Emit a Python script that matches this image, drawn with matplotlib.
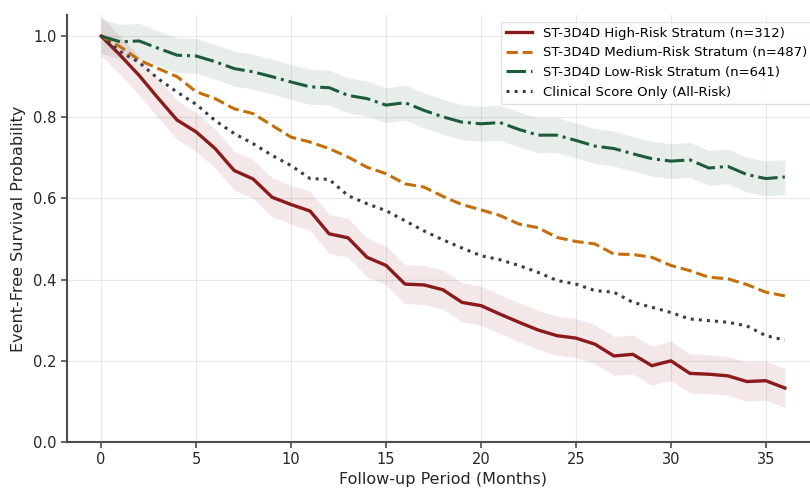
import matplotlib
matplotlib.use("Agg")
import matplotlib.pyplot as plt
import numpy as np

plt.rcParams['font.family'] = ['DejaVu Sans']

months = list(range(0, 37))

high_risk = [1.000, 0.953, 0.903, 0.847, 0.793, 0.764, 0.723, 0.669, 0.648, 0.603,
             0.585, 0.569, 0.513, 0.503, 0.455, 0.435, 0.389, 0.387, 0.375, 0.344,
             0.336, 0.315, 0.295, 0.276, 0.262, 0.256, 0.241, 0.212, 0.216, 0.188,
             0.200, 0.169, 0.167, 0.163, 0.149, 0.151, 0.133]
medium_risk = [1.000, 0.974, 0.941, 0.920, 0.900, 0.863, 0.846, 0.821, 0.809, 0.780,
               0.751, 0.739, 0.723, 0.702, 0.677, 0.661, 0.636, 0.628, 0.605, 0.585,
               0.572, 0.558, 0.537, 0.528, 0.504, 0.494, 0.488, 0.463, 0.462, 0.455,
               0.435, 0.422, 0.406, 0.402, 0.388, 0.369, 0.360]
low_risk = [1.000, 0.986, 0.988, 0.970, 0.953, 0.951, 0.937, 0.920, 0.912, 0.900,
            0.887, 0.875, 0.873, 0.854, 0.846, 0.830, 0.836, 0.817, 0.801, 0.788,
            0.784, 0.787, 0.770, 0.756, 0.756, 0.743, 0.729, 0.723, 0.710, 0.698,
            0.692, 0.695, 0.675, 0.679, 0.659, 0.649, 0.653]
clinical = [1.000, 0.962, 0.935, 0.895, 0.862, 0.832, 0.792, 0.760, 0.735, 0.706,
            0.681, 0.649, 0.647, 0.607, 0.587, 0.570, 0.545, 0.520, 0.498, 0.478,
            0.459, 0.449, 0.435, 0.418, 0.398, 0.389, 0.373, 0.369, 0.344, 0.332,
            0.319, 0.303, 0.299, 0.295, 0.286, 0.262, 0.251]

# half-width of the shaded confidence bands
high_ci_half = 0.048
low_ci_half = 0.043

labels = ["ST-3D4D High-Risk Stratum (n=312)",
          "ST-3D4D Medium-Risk Stratum (n=487)",
          "ST-3D4D Low-Risk Stratum (n=641)",
          "Clinical Score Only (All-Risk)"]
x_ticks = [0, 5, 10, 15, 20, 25, 30, 35]
y_ticks = [0.0, 0.2, 0.4, 0.6, 0.8, 1.0]

c_high = '#8b1a1a'
c_med = '#c46f0a'
c_low = '#1d5c3a'
c_clin = '#3a3d4d'

fig = plt.figure(figsize=(8.1, 4.9), dpi=100)
ax = fig.add_axes([67 / 810, 48 / 490, 752 / 810, 427 / 490])

m = np.array(months)
hi = np.array(high_risk)
lo = np.array(low_risk)

ax.fill_between(m, hi - high_ci_half, hi + high_ci_half, color=c_high, alpha=0.10, linewidth=0)
ax.fill_between(m, lo - low_ci_half, lo + low_ci_half, color=c_low, alpha=0.10, linewidth=0)

ax.plot(m, high_risk, color=c_high, lw=2.4, ls='-', label=labels[0])
ax.plot(m, medium_risk, color=c_med, lw=2.2, ls='--', label=labels[1])
ax.plot(m, low_risk, color=c_low, lw=2.2, ls='-.', label=labels[2])
ax.plot(m, clinical, color=c_clin, lw=2.2, ls=':', label=labels[3])

ax.set_xlim(-1.8, 37.8)
ax.set_ylim(0, 1.052)
ax.set_xticks(x_ticks)
ax.set_yticks(y_ticks)
ax.set_xticklabels([str(t) for t in x_ticks])
ax.set_yticklabels([f"{t:.1f}" for t in y_ticks])

ax.grid(True, color='#d9d9d9', alpha=0.6, lw=0.8)
ax.set_axisbelow(True)

for s in ['top', 'right']:
    ax.spines[s].set_visible(False)
for s in ['left', 'bottom']:
    ax.spines[s].set_color('#4d4d4d')
    ax.spines[s].set_linewidth(1.5)
ax.tick_params(axis='both', colors='#4d4d4d', labelcolor='#262626', labelsize=10.5,
               length=4, width=1.2)

ax.set_xlabel("Follow-up Period (Months)", fontsize=11.5, color='#262626', labelpad=3)
ax.set_ylabel("Event-Free Survival Probability", fontsize=11.5, color='#262626', labelpad=5)

leg = ax.legend(loc='upper right', fontsize=9.5, frameon=True, framealpha=0.9,
                edgecolor='#dddddd', handlelength=2.0)

fig.savefig("out.png", dpi=100)
